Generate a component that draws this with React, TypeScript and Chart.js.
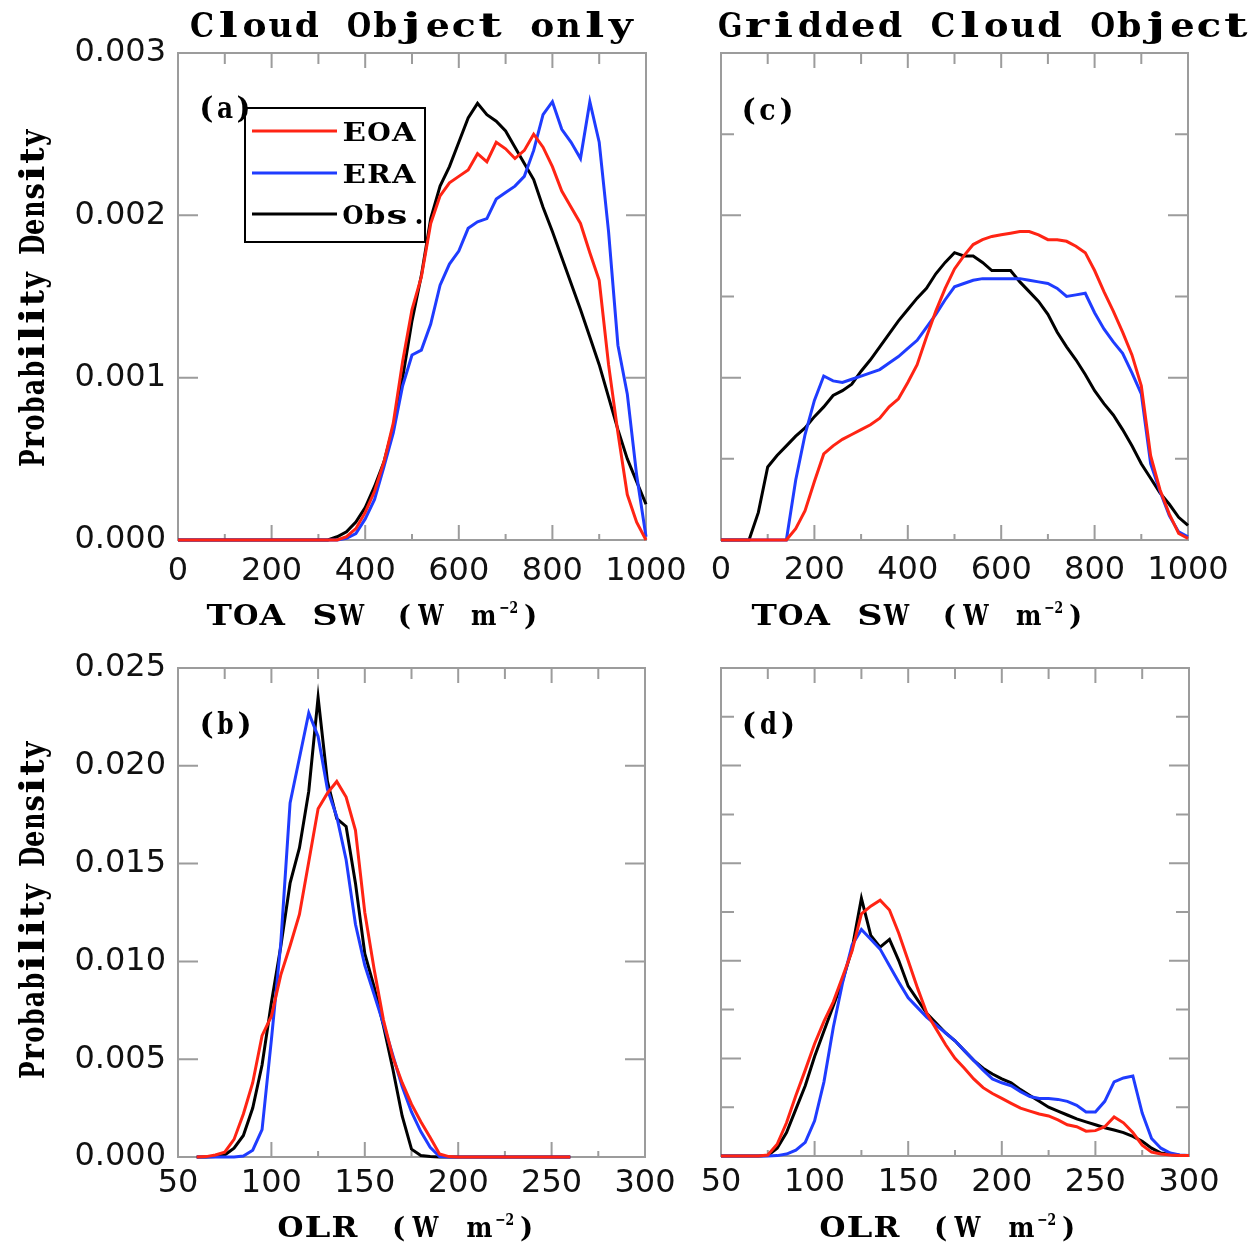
import React, { useEffect, useRef } from "react";
import { Chart, registerables } from "chart.js";

Chart.register(...registerables);

// ---------------- DATA ----------------
// TOA SW bins (W m-2)
const SW_X = [
  0, 20, 40, 60, 80, 100, 120, 140, 160, 180, 200, 220, 240, 260, 280, 300, 320, 340, 360, 380,
  400, 420, 440, 460, 480, 500, 520, 540, 560, 580, 600, 620, 640, 660, 680, 700, 720, 740, 760, 780,
  800, 820, 840, 860, 880, 900, 920, 940, 960, 980, 1000,
];
// OLR bins (W m-2)
const OLR_X_OBJ = [
  60, 65, 70, 75, 80, 85, 90, 95, 100, 105, 110, 115, 120, 125, 130, 135, 140, 145, 150, 155,
  160, 165, 170, 175, 180, 185, 190, 195, 200, 205, 210, 215, 220, 225, 230, 235, 240, 245, 250, 255, 260,
];
const OLR_X_GRID = [
  50, 55, 60, 65, 70, 75, 80, 85, 90, 95, 100, 105, 110, 115, 120, 125, 130, 135, 140, 145,
  150, 155, 160, 165, 170, 175, 180, 185, 190, 195, 200, 205, 210, 215, 220, 225, 230, 235, 240, 245,
  250, 255, 260, 265, 270, 275, 280, 285, 290, 295, 300,
];

// (a) Cloud object only, TOA SW
const SW_OBJ_EOA = [
  0, 0, 0, 0, 0, 0, 0, 0, 0, 0, 0, 0, 0, 0, 0, 0, 0, 0, 0.00002, 0.00007,
  0.00017, 0.0003, 0.00048, 0.00072, 0.0011, 0.00142, 0.00162, 0.00195, 0.00212, 0.0022, 0.00224, 0.00228, 0.00238, 0.00233, 0.00245, 0.00241, 0.00235, 0.0024, 0.0025, 0.00242,
  0.0023, 0.00215, 0.00205, 0.00195, 0.00177, 0.0016, 0.00108, 0.00066, 0.00028, 0.00011, 0,
];
const SW_OBJ_ERA = [
  0, 0, 0, 0, 0, 0, 0, 0, 0, 0, 0, 0, 0, 0, 0, 0, 0, 0, 0.00001, 0.00004,
  0.00013, 0.00025, 0.00045, 0.00066, 0.00095, 0.00114, 0.00117, 0.00133, 0.00157, 0.0017, 0.00178, 0.00192, 0.00196, 0.00198, 0.0021, 0.00214, 0.00218, 0.00224, 0.0024, 0.00262,
  0.0027, 0.00253, 0.00245, 0.00235, 0.0027, 0.00245, 0.0019, 0.0012, 0.0009, 0.0004, 0.00002,
];
const SW_OBJ_OBS = [
  0, 0, 0, 0, 0, 0, 0, 0, 0, 0, 0, 0, 0, 0, 0, 0, 0, 0.00002, 0.00005, 0.00011,
  0.0002, 0.00033, 0.00048, 0.0007, 0.001, 0.00135, 0.00163, 0.00198, 0.00218, 0.0023, 0.00245, 0.0026, 0.00269, 0.00262, 0.00258, 0.00252, 0.00242, 0.00232, 0.00222, 0.00205,
  0.0019, 0.00174, 0.00158, 0.00142, 0.00125, 0.00108, 0.00088, 0.00068, 0.0005, 0.00036, 0.00022,
];

// (c) Gridded cloud object, TOA SW
const SW_GRID_EOA = [
  0, 0, 0, 0, 0, 0, 0, 0, 0.00007, 0.00018, 0.00036, 0.00053, 0.00058, 0.00062, 0.00065, 0.00068, 0.00071, 0.00075, 0.00082, 0.00087,
  0.00097, 0.00108, 0.00125, 0.00141, 0.00155, 0.00167, 0.00175, 0.00182, 0.00185, 0.00187, 0.00188, 0.00189, 0.0019, 0.0019, 0.00188, 0.00185, 0.00185, 0.00184, 0.00181, 0.00177,
  0.00166, 0.00153, 0.00141, 0.00128, 0.00114, 0.00095, 0.00052, 0.00031, 0.00016, 0.00004, 0.00001,
];
const SW_GRID_ERA = [
  0, 0, 0, 0, 0, 0, 0, 0, 0.00037, 0.00065, 0.00086, 0.00101, 0.00098, 0.00097, 0.00099, 0.00101, 0.00103, 0.00105, 0.00109, 0.00113,
  0.00118, 0.00123, 0.00131, 0.00139, 0.00148, 0.00156, 0.00158, 0.0016, 0.00161, 0.00161, 0.00161, 0.00161, 0.00161, 0.0016, 0.00159, 0.00158, 0.00155, 0.0015, 0.00151, 0.00152,
  0.0014, 0.0013, 0.00122, 0.00115, 0.00103, 0.0009, 0.00047, 0.0003, 0.00015, 0.00005, 0.00002,
];
const SW_GRID_OBS = [
  0, 0, 0, 0, 0.00017, 0.00045, 0.00052, 0.00058, 0.00064, 0.00069, 0.00076, 0.00082, 0.00089, 0.00092, 0.00096, 0.00104, 0.00111, 0.00119, 0.00127, 0.00135,
  0.00142, 0.00149, 0.00155, 0.00164, 0.00171, 0.00177, 0.00175, 0.00175, 0.00171, 0.00166, 0.00166, 0.00166, 0.00159, 0.00153, 0.00147, 0.00139, 0.00128, 0.00119, 0.00111, 0.00102,
  0.00092, 0.00084, 0.00077, 0.00068, 0.00058, 0.00047, 0.00038, 0.00029, 0.00022, 0.00014, 0.00009,
];

// (b) Cloud object only, OLR
const OLR_OBJ_EOA = [
  0, 0.00002, 0.0001, 0.00025, 0.0009, 0.0022, 0.0038, 0.0062, 0.0072, 0.0093, 0.0108, 0.0124, 0.0151, 0.0178, 0.0186, 0.0192, 0.0184, 0.0167, 0.0125, 0.0096,
  0.007, 0.0051, 0.0038, 0.0027, 0.0018, 0.001, 0.00015, 0.00002, 0, 0, 0, 0, 0, 0, 0, 0, 0, 0, 0, 0, 0,
];
const OLR_OBJ_ERA = [
  0, 0, 0, 0, 0, 0.00005, 0.00035, 0.0014, 0.006, 0.0109, 0.0181, 0.0204, 0.0227, 0.0215, 0.0188, 0.0174, 0.0152, 0.0119, 0.0098, 0.0083,
  0.0068, 0.0052, 0.0036, 0.0023, 0.0013, 0.0005, 0.00002, 0, 0, 0, 0, 0, 0, 0, 0, 0, 0, 0, 0, 0, 0,
];
const OLR_OBJ_OBS = [
  0, 0, 0.00002, 0.0001, 0.00045, 0.0011, 0.0025, 0.0047, 0.0079, 0.01075, 0.014, 0.0158, 0.0187, 0.0235, 0.0192, 0.0173, 0.0169, 0.014, 0.0104, 0.0087,
  0.0067, 0.0045, 0.0021, 0.0004, 0.00008, 0.00002, 0, 0, 0, 0, 0, 0, 0, 0, 0, 0, 0, 0, 0, 0, 0,
];

// (d) Gridded cloud object, OLR
const OLR_GRID_EOA = [
  0, 0, 0, 0, 0, 0.00005, 0.0006, 0.0017, 0.0031, 0.0044, 0.00575, 0.0069, 0.0079, 0.0092, 0.0105, 0.0124, 0.0128, 0.0131, 0.0126, 0.0114,
  0.01, 0.0086, 0.0073, 0.0065, 0.0057, 0.005, 0.0045, 0.00395, 0.0035, 0.0032, 0.00295, 0.0027, 0.00245, 0.0023, 0.00215, 0.00205, 0.00185, 0.0016, 0.0015, 0.00127,
  0.0013, 0.0015, 0.002, 0.0017, 0.0012, 0.00055, 0.0002, 0.0001, 0.00005, 0.00003, 0.00002,
];
const OLR_GRID_ERA = [
  0, 0, 0, 0, 0, 0, 0.00002, 0.0001, 0.0003, 0.0007, 0.0018, 0.0038, 0.0066, 0.0089, 0.0108, 0.0116, 0.0111, 0.0106, 0.00975, 0.0089,
  0.0081, 0.0076, 0.0071, 0.0067, 0.0063, 0.0059, 0.0054, 0.0049, 0.0044, 0.00395, 0.00375, 0.0036, 0.0033, 0.00305, 0.00295, 0.00295, 0.0029, 0.0028, 0.0026, 0.00225,
  0.00225, 0.0028, 0.0038, 0.004, 0.0041, 0.0022, 0.0009, 0.0004, 0.00015, 0.00005, 0.00002,
];
const OLR_GRID_OBS = [
  0, 0, 0, 0, 0, 0.00002, 0.0004, 0.0012, 0.0024, 0.0036, 0.0051, 0.0064, 0.0077, 0.009, 0.0106, 0.0132, 0.0113, 0.0107, 0.0111, 0.01,
  0.0087, 0.008, 0.0073, 0.0068, 0.0063, 0.0059, 0.0054, 0.0049, 0.0045, 0.0042, 0.00395, 0.00375, 0.0034, 0.0031, 0.0028, 0.0025, 0.0023, 0.0021, 0.0019, 0.00175,
  0.0016, 0.00145, 0.00133, 0.0012, 0.001, 0.00075, 0.0004, 0.00015, 0.00008, 0.00004, 0.00002,
];

const SERIES_NAMES = ["EOA", "ERA", "Obs."];
const SW_TICKS_STEP = 200;
const OLR_TICKS_STEP = 50;

// ---------------- STYLE ----------------
const W = 1251;
const H = 1247;
const COLORS = ["#ff2414", "#1f3cff", "#000000"];
const FRAME = "#9c9c9c";
const SERIF = '"DejaVu Serif", "Liberation Serif", serif';
const TICK_FONT = { family: '"DejaVu Sans", "Liberation Sans", sans-serif', size: 32 };

type Panel = {
  id: string;
  xs: number[];
  series: number[][];
  xMin: number;
  xMax: number;
  xStep: number;
  xMinor: number;
  yMax: number;
  yStep: number;
  yMinor: number;
  yMinorTicks: boolean;
  showY: boolean;
  area: { l: number; t: number; r: number; b: number };
  xPad: number;
  title?: { text: string; x0: number; x1: number };
  xTitle: { main: string; x0: number; x1: number; base: number };
  yTitleCy?: number;
  label: { text: string; x0: number; x1: number; base: number };
  legend?: boolean;
};

const PANELS: Panel[] = [
  {
    id: "a", xs: SW_X, series: [SW_OBJ_EOA, SW_OBJ_ERA, SW_OBJ_OBS],
    xMin: 0, xMax: 1000, xStep: SW_TICKS_STEP, xMinor: 100, yMax: 0.003, yStep: 0.001, yMinor: 0.0005, yMinorTicks: false,
    showY: true, area: { l: 178, t: 53, r: 646, b: 540 }, xPad: 12,
    title: { text: "Cloud Object only", x0: 189, x1: 634 },
    xTitle: { main: "TOA SW (W m", x0: 206, x1: 497, base: 625 }, yTitleCy: 298,
    label: { text: "(a)", x0: 197, x1: 253, base: 118 }, legend: true,
  },
  {
    id: "c", xs: SW_X, series: [SW_GRID_EOA, SW_GRID_ERA, SW_GRID_OBS],
    xMin: 0, xMax: 1000, xStep: SW_TICKS_STEP, xMinor: 100, yMax: 0.003, yStep: 0.001, yMinor: 0.0005, yMinorTicks: true,
    showY: false, area: { l: 721, t: 53, r: 1188, b: 540 }, xPad: 11,
    title: { text: "Gridded Cloud Object", x0: 717, x1: 1249 },
    xTitle: { main: "TOA SW (W m", x0: 751, x1: 1042, base: 625 },
    label: { text: "(c)", x0: 739, x1: 796, base: 120 },
  },
  {
    id: "b", xs: OLR_X_OBJ, series: [OLR_OBJ_EOA, OLR_OBJ_ERA, OLR_OBJ_OBS],
    xMin: 50, xMax: 300, xStep: OLR_TICKS_STEP, xMinor: 25, yMax: 0.025, yStep: 0.005, yMinor: 0.0025, yMinorTicks: false,
    showY: true, area: { l: 178, t: 668, r: 645, b: 1157 }, xPad: 7,
    xTitle: { main: "OLR (W m", x0: 277, x1: 493, base: 1237 }, yTitleCy: 910,
    label: { text: "(b)", x0: 197, x1: 254, base: 734 },
  },
  {
    id: "d", xs: OLR_X_GRID, series: [OLR_GRID_EOA, OLR_GRID_ERA, OLR_GRID_OBS],
    xMin: 50, xMax: 300, xStep: OLR_TICKS_STEP, xMinor: 25, yMax: 0.025, yStep: 0.005, yMinor: 0.0025, yMinorTicks: true,
    showY: false, area: { l: 721, t: 668, r: 1189, b: 1156 }, xPad: 7,
    xTitle: { main: "OLR (W m", x0: 819, x1: 1035, base: 1237 },
    label: { text: "(d)", x0: 739, x1: 798, base: 734 },
  },
];

// Draw text in equal-width cells between x0 and x1 (typewriter-like layout),
// each glyph centred in its cell and widened/narrowed to fill it.
function monoText(ctx: CanvasRenderingContext2D, text: string, x0: number, x1: number, y: number, font: string, fill = 0.86) {
  ctx.save();
  ctx.font = font;
  ctx.textAlign = "center";
  ctx.textBaseline = "alphabetic";
  ctx.fillStyle = "#000";
  const cell = (x1 - x0) / text.length;
  for (let i = 0; i < text.length; i++) {
    const ch = text[i];
    if (ch === " ") continue;
    const w = ctx.measureText(ch).width;
    const narrow = ".,:;()".includes(ch);
    const s = narrow ? 1 : Math.max(0.7, Math.min(1.5, (cell * fill) / w));
    ctx.save();
    ctx.translate(x0 + (i + 0.5) * cell, y);
    ctx.scale(s, 1);
    ctx.fillText(ch, 0, 0);
    ctx.restore();
  }
  ctx.restore();
}

function fitText(ctx: CanvasRenderingContext2D, text: string, x0: number, x1: number, y: number, font: string) {
  ctx.save();
  ctx.font = font;
  const w = ctx.measureText(text).width;
  ctx.translate(x0, y);
  ctx.scale((x1 - x0) / w, 1);
  ctx.textAlign = "left";
  ctx.textBaseline = "alphabetic";
  ctx.fillStyle = "#000";
  ctx.fillText(text, 0, 0);
  ctx.restore();
}

function decor(p: Panel) {
  return {
    id: "decor_" + p.id,
    beforeDatasetsDraw(chart: any) {
      const ctx: CanvasRenderingContext2D = chart.ctx;
      const a = chart.chartArea;
      const xs = chart.scales.x;
      const ys = chart.scales.y;
      ctx.save();
      ctx.strokeStyle = FRAME;
      ctx.lineWidth = 2;
      ctx.strokeRect(a.left, a.top, a.right - a.left, a.bottom - a.top);
      ctx.beginPath();
      const nx = Math.round((p.xMax - p.xMin) / p.xMinor);
      const per = Math.round(p.xStep / p.xMinor);
      for (let i = 1; i < nx; i++) {
        const px = xs.getPixelForValue(p.xMin + i * p.xMinor);
        const major = i % per === 0;
        const lt = major ? 15 : 11;
        const lb = major ? 15 : 6;
        ctx.moveTo(px, a.top);
        ctx.lineTo(px, a.top + lt);
        ctx.moveTo(px, a.bottom);
        ctx.lineTo(px, a.bottom - lb);
      }
      const ny = Math.round(p.yMax / p.yMinor);
      const pery = Math.round(p.yStep / p.yMinor);
      for (let i = 1; i < ny; i++) {
        const major = i % pery === 0;
        if (!major && !p.yMinorTicks) continue;
        const py = ys.getPixelForValue(i * p.yMinor);
        const len = major ? 20 : 13;
        ctx.moveTo(a.left, py);
        ctx.lineTo(a.left + len, py);
        ctx.moveTo(a.right, py);
        ctx.lineTo(a.right - len, py);
      }
      ctx.stroke();
      ctx.restore();
    },
    afterDatasetsDraw(chart: any) {
      const ctx: CanvasRenderingContext2D = chart.ctx;
      if (p.title) monoText(ctx, p.title.text, p.title.x0, p.title.x1, 37, `bold 34px ${SERIF}`, 0.92);
      // x title with superscript
      const xt = p.xTitle;
      monoText(ctx, xt.main, xt.x0, xt.x1, xt.base, `bold 28px ${SERIF}`, 0.96);
      fitText(ctx, "\u22122", xt.x1 + 2, xt.x1 + 21, xt.base - 12, `bold 16px ${SERIF}`);
      monoText(ctx, ")", xt.x1 + 22, xt.x1 + 45, xt.base, `bold 28px ${SERIF}`);
      // y title (rotated)
      if (p.yTitleCy !== undefined) {
        ctx.save();
        ctx.translate(44, p.yTitleCy);
        ctx.rotate(-Math.PI / 2);
        monoText(ctx, "Probability Density", -169, 169, 0, `bold 33px ${SERIF}`, 0.92);
        ctx.restore();
      }
      // panel label
      monoText(ctx, p.label.text, p.label.x0, p.label.x1, p.label.base, `bold 30px ${SERIF}`);
      if (p.legend) {
        ctx.save();
        ctx.strokeStyle = "#000";
        ctx.lineWidth = 2;
        ctx.strokeRect(245, 108, 180, 134);
        const ys = [131, 173, 214];
        const ends = [416, 416, 430];
        SERIES_NAMES.forEach((name, i) => {
          ctx.beginPath();
          ctx.strokeStyle = COLORS[i];
          ctx.lineWidth = 3;
          ctx.moveTo(252, ys[i]);
          ctx.lineTo(337, ys[i]);
          ctx.stroke();
          monoText(ctx, name, 342, ends[i], ys[i] + 10, `bold 26px ${SERIF}`, 0.95);
        });
        ctx.restore();
      }
    },
  };
}

function build(canvas: HTMLCanvasElement, p: Panel): Chart {
  const datasets = p.series.map((vals, i) => ({
    label: SERIES_NAMES[i],
    data: p.xs.map((xv, j) => ({ x: xv, y: vals[j] })),
    borderColor: COLORS[i],
    backgroundColor: COLORS[i],
    borderWidth: 3,
    pointRadius: 0,
    tension: 0,
    clip: false as any,
  }));
  const cfg: any = {
    type: "line",
    data: { datasets },
    options: {
      animation: false,
      responsive: false,
      devicePixelRatio: 1,
      layout: { padding: { left: 0, top: p.area.t, right: W - p.area.r, bottom: 0 } },
      plugins: { legend: { display: false }, tooltip: { enabled: false }, title: { display: false } },
      scales: {
        x: {
          type: "linear",
          min: p.xMin,
          max: p.xMax,
          grid: { display: false, drawTicks: false },
          border: { display: false },
          ticks: {
            stepSize: p.xStep,
            padding: p.xPad,
            autoSkip: false,
            maxRotation: 0,
            minRotation: 0,
            color: "#111",
            font: TICK_FONT,
            callback: (v: number) => String(Math.round(v)),
          },
          afterFit: (s: any) => {
            s.height = H - p.area.b;
          },
        },
        y: {
          type: "linear",
          min: 0,
          max: p.yMax,
          grid: { display: false, drawTicks: false },
          border: { display: false },
          ticks: {
            display: p.showY,
            stepSize: p.yStep,
            padding: 12,
            color: "#111",
            font: TICK_FONT,
            callback: (v: number) => v.toFixed(3),
          },
          afterFit: (s: any) => {
            s.width = p.area.l;
          },
        },
      },
    },
    plugins: [decor(p)],
  };
  return new Chart(canvas, cfg);
}

export default function App() {
  const refs = useRef<(HTMLCanvasElement | null)[]>([]);
  useEffect(() => {
    const charts = PANELS.map((p, i) => build(refs.current[i] as HTMLCanvasElement, p));
    return () => charts.forEach((c) => c.destroy());
  }, []);
  return (
    <div style={{ position: "absolute", left: 0, top: 0, width: W, height: H, overflow: "hidden", background: "#fff" }}>
      {PANELS.map((p, i) => (
        <canvas
          key={p.id}
          ref={(el) => {
            refs.current[i] = el;
          }}
          width={W}
          height={H}
          style={{ position: "absolute", left: 0, top: 0, width: W, height: H }}
        />
      ))}
    </div>
  );
}
